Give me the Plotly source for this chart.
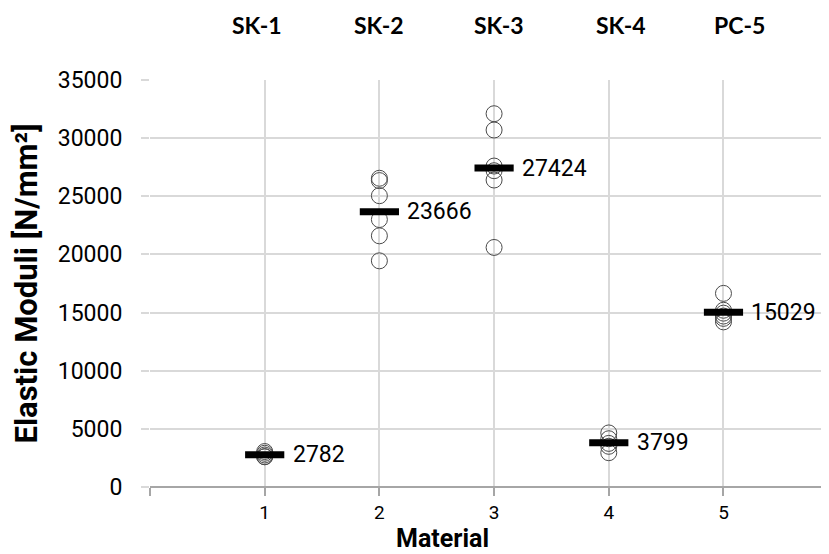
import plotly.graph_objects as go

materials = [1, 2, 3, 4, 5]
names = ["SK-1", "SK-2", "SK-3", "SK-4", "PC-5"]
samples = [
    [3050, 2900, 2750, 2600, 2610],
    [26550, 26350, 25050, 23000, 21600, 19450],
    [32100, 30700, 27600, 27200, 26400, 20600],
    [4650, 4150, 3750, 3500, 2950],
    [16650, 15200, 14950, 14700, 14500, 14200],
]
means = [2782, 23666, 27424, 3799, 15029]
name_shift = [-8, 0, 5, 12, 16]

xs, ys = [], []
for m, vals in zip(materials, samples):
    xs += [m] * len(vals)
    ys += vals

fig = go.Figure()
fig.add_trace(go.Scatter(
    x=xs, y=ys, mode="markers",
    marker=dict(symbol="circle-open", size=16, color="#4a4a4a", line=dict(width=1)),
    showlegend=False, cliponaxis=False))
fig.add_trace(go.Scatter(
    x=materials, y=means, mode="markers",
    marker=dict(symbol="line-ew", size=28, line=dict(width=7, color="#000000")),
    showlegend=False, cliponaxis=False))

for m, v in zip(materials, means):
    fig.add_annotation(x=m, y=v, text=str(v), showarrow=False, xanchor="left",
                       xshift=26, font=dict(family="Roboto", size=23, color="#000"))
for m, n, s in zip(materials, names, name_shift):
    fig.add_annotation(x=m, y=1, yref="paper", yshift=55, xshift=s, text="<b>%s</b>" % n,
                       showarrow=False, yanchor="middle",
                       font=dict(family="Lato", size=23, color="#000"))
# x-axis title (offset left of plot centre, as in the reference)
fig.add_annotation(x=2.55, y=0, yref="paper", yshift=-51, text="<b>Material</b>",
                   showarrow=False, yanchor="middle",
                   font=dict(family="Roboto", size=25, color="#000"))

fig.update_layout(
    width=821, height=546,
    margin=dict(l=142, r=0, t=72, b=67, autoexpand=False),
    plot_bgcolor="white", paper_bgcolor="white",
    xaxis=dict(range=[0, 5.92], tickvals=[0] + materials,
               ticktext=[""] + [str(m) for m in materials],
               showgrid=True, gridcolor="#d9d9d9", gridwidth=2,
               showline=False, zeroline=False,
               ticks="outside", ticklen=8, tickcolor="#a6a6a6", tickwidth=2,
               automargin=False,
               tickfont=dict(family="Roboto", size=19, color="#000")),
    yaxis=dict(range=[0, 35000], dtick=5000, tickformat="d",
               showgrid=True, gridcolor="#d9d9d9", gridwidth=2,
               zeroline=True, zerolinecolor="#a6a6a6", zerolinewidth=2,
               ticks="outside", ticklen=8, tickcolor="#d9d9d9", tickwidth=2,
               showline=False, automargin=False, ticklabelstandoff=14,
               tickfont=dict(family="Roboto", size=23, color="#000"),
               title=dict(text="<b>Elastic Moduli [N/mm²]</b>", standoff=10,
                          font=dict(family="Roboto", size=31, color="#000"))),
)
fig.write_html("out.html")
